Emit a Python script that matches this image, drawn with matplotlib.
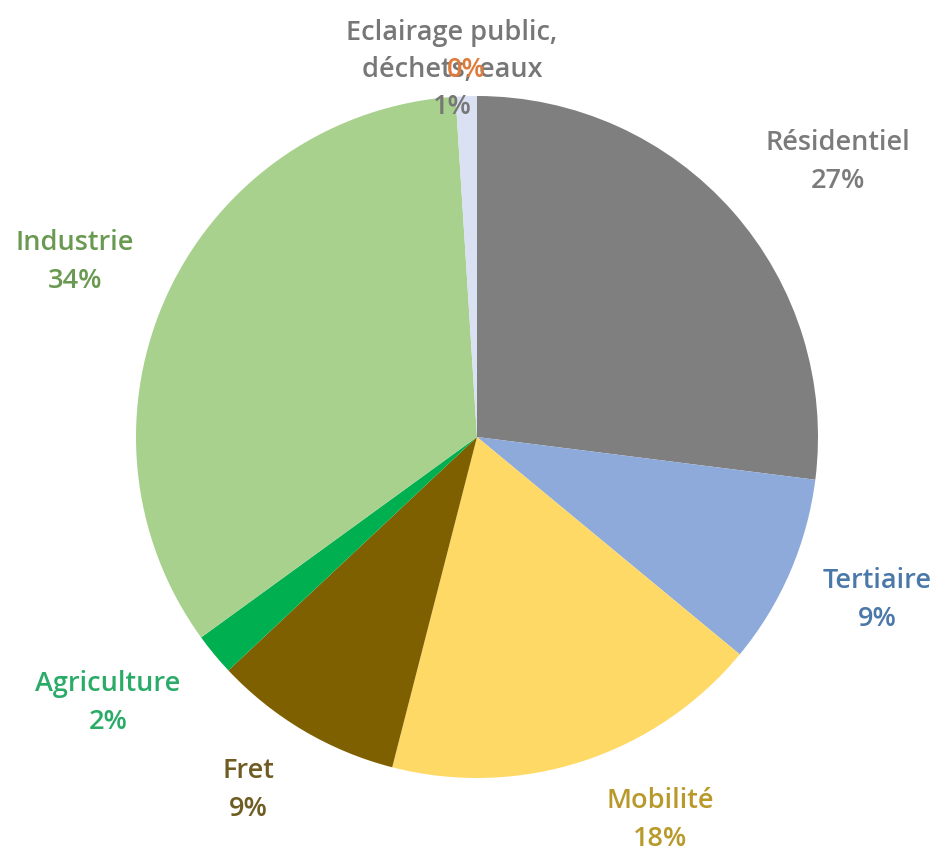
import matplotlib

matplotlib.use("Agg")
import matplotlib.pyplot as plt

# Data, clockwise from 12 o'clock
categories = ["Résidentiel", "Tertiaire", "Mobilité", "Fret", "Agriculture",
              "Industrie", "Eclairage public,\ndéchets, eaux", ""]
shares = [27, 9, 18, 9, 2, 34, 1, 0]
pct_labels = ["27%", "9%", "18%", "9%", "2%", "34%", "1%", "0%"]

slice_colors = ["#7f7f7f", "#8eaadb", "#ffd966", "#7f6000", "#00b050",
                "#a9d18e", "#d9e1f2", "#ed7d31"]
label_colors = ["#7b7b7b", "#4a78a8", "#b8992a", "#6e5c22", "#2bab68",
                "#6a9a52", "#777777", "#e07a3c"]
# label block centres in pixel coordinates (x, y from top)
label_pos = [(838, 162), (877, 600), (660, 820), (248, 790), (108, 703),
             (75, 262), (452, 70), (466, 70)]

W, H = 943, 856
fig = plt.figure(figsize=(W / 100, H / 100), dpi=100)
ax = fig.add_axes([0, 0, 1, 1])

cx, cy, r = 477, H - 437, 341
ax.pie(shares, colors=slice_colors, startangle=90, counterclock=False,
       center=(cx, cy), radius=r, frame=True,
       wedgeprops=dict(linewidth=0))
ax.set_xlim(0, W)
ax.set_ylim(0, H)
ax.set_aspect("equal")
ax.axis("off")

font = ["Open Sans", "DejaVu Sans"]
for name, pct, col, (x, y) in zip(categories, pct_labels, label_colors, label_pos):
    txt = f"{name}\n{pct}" if name else pct
    ax.text(x, H - y, txt, ha="center", va="center", color=col,
            fontsize=19.5, fontweight="semibold", family=font,
            linespacing=1.45, multialignment="center")

fig.savefig("out.png", dpi=100)
